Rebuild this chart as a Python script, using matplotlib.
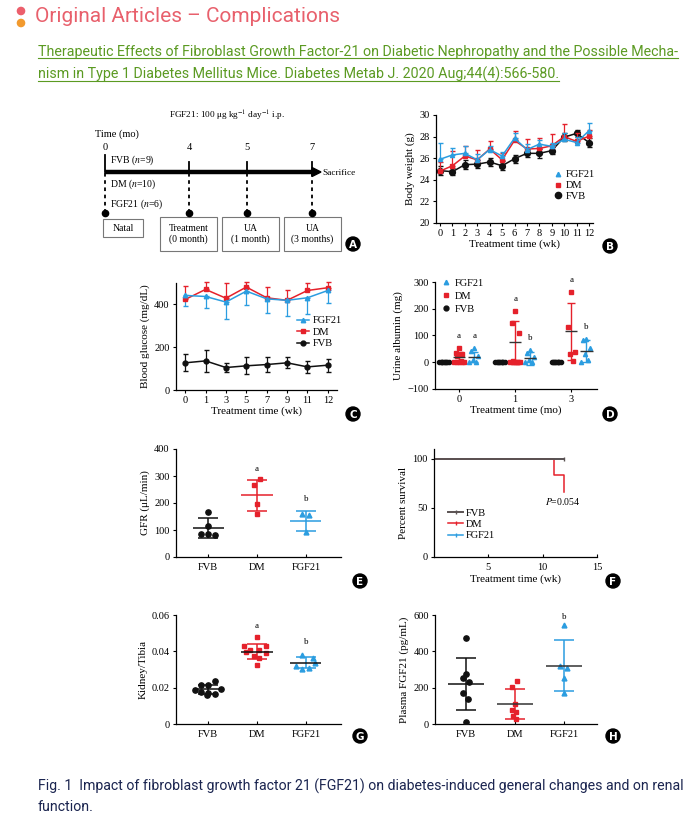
import numpy as np
import matplotlib
matplotlib.use("Agg")
import matplotlib.pyplot as plt
from matplotlib.patches import Circle, Rectangle, Polygon
from matplotlib.lines import Line2D

plt.rcParams["font.family"] = ["Liberation Serif", "DejaVu Serif"]
plt.rcParams["font.size"] = 7.5
plt.rcParams["mathtext.fontset"] = "stix"
plt.rcParams["axes.linewidth"] = 0.9

BLUE = "#2b9de0"
RED = "#e5212b"
BLACK = "#111111"

# ---- data -------------------------------------------------------------
# A: study timeline
stops = ["0", "4", "5", "7"]
groups_a = ["FVB ($n$=9)", "DM ($n$=10)", "FGF21 ($n$=6)"]
boxes_a = ["Natal", "Treatment\n(0 month)", "UA\n(1 month)", "UA\n(3 months)"]

# B: body weight (g)
weeks_b = np.arange(13)
bw_fgf21 = [25.9, 26.3, 26.45, 25.85, 26.8, 26.2, 27.85, 26.8, 27.3, 27.1, 27.75, 27.45, 28.55]
bw_fgf21_err = [1.55, 0.6, 0.7, 0.55, 0.3, 0.4, 0.45, 0.5, 0.4, 0.35, 0.55, 0.5, 0.75]
bw_dm = [24.8, 25.3, 26.2, 25.85, 26.85, 25.85, 27.65, 26.85, 26.9, 27.15, 28.0, 27.55, 28.05]
bw_dm_err = [0.85, 1.4, 0.9, 0.9, 0.75, 0.6, 0.9, 0.9, 0.95, 1.1, 1.15, 0.75, 0.55]
bw_fvb = [24.85, 24.75, 25.4, 25.45, 25.65, 25.3, 25.95, 26.45, 26.45, 26.7, 27.95, 28.3, 27.45]
bw_fvb_err = [0.4, 0.35, 0.4, 0.4, 0.35, 0.4, 0.35, 0.35, 0.4, 0.35, 0.35, 0.3, 0.45]

# C: blood glucose (mg/dL)
weeks_c = ["0", "1", "3", "5", "7", "9", "11", "12"]
bg_fgf21 = [442, 437, 411, 462, 426, 419, 431, 465]
bg_fgf21_err = [51, 53, 78, 67, 66, 75, 78, 59]
bg_dm = [423, 470, 429, 481, 431, 419, 465, 478]
bg_dm_err = [62, 34, 70, 23, 51, 46, 36, 26]
bg_fvb = [127, 136, 105, 113, 119, 127, 108, 116]
bg_fvb_err = [40, 50, 22, 39, 33, 25, 28, 31]

# D: urine albumin (mg)
months_d = ["0", "1", "3"]
ua_fvb = [[0, 0, 0, 0, 0, 0, 0, 0, 0], [0, 0, 0, 0, 0, 0, 0, 0, 0], [0, 0, 0, 0, 0, 0, 0, 0, 0]]
ua_dm = [[52, 35, 32, 24, 5, 2, 0, 0, 0, 0],
         [192, 145, 110, 5, 2, 0, 0, 0, 0, 0],
         [262, 130, 40, 30, 5]]
ua_fgf21 = [[55, 42, 22, 10, 2, 0],
            [45, 35, 20, 8, 2, 0],
            [87, 82, 55, 30, 10, 2]]
ua_dm_mean = [18, 75, 115]
ua_dm_sd = [20, 80, 107]
ua_fgf21_mean = [20, 15, 42]
ua_fgf21_sd = [20, 25, 40]
ua_dm_sig = ["a", "a", "a"]
ua_dm_sig_y = [97, 238, 309]
ua_fgf21_sig = ["a", "b", "b"]
ua_fgf21_sig_y = [97, 91, 132]

# E, G, H: group dot plots
cats = ["FVB", "DM", "FGF21"]
gfr = [[165, 115, 87, 85, 82], [288, 265, 197, 161], [160, 154, 92]]
gfr_mean = [107, 228, 135]
gfr_sd = [36, 59, 37]
gfr_sig = ["", "a", "b"]
gfr_sig_y = [0, 325, 215]

kt = [[0.0235, 0.0213, 0.0212, 0.0190, 0.0188, 0.0176, 0.0173, 0.0165, 0.0157],
      [0.0477, 0.0431, 0.0431, 0.0407, 0.0398, 0.0407, 0.0389, 0.0374, 0.0365, 0.0325],
      [0.0380, 0.0362, 0.0338, 0.0319, 0.0301, 0.0306]]
kt_mean = [0.0191, 0.0398, 0.0338]
kt_sd = [0.0025, 0.0042, 0.0031]
kt_sig = ["", "a", "b"]
kt_sig_y = [0, 0.0541, 0.045]

pf = [[472, 275, 251, 229, 169, 138, 13],
      [237, 202, 108, 77, 64, 44, 26],
      [545, 319, 306, 251, 169]]
pf_mean = [220, 108, 321]
pf_sd = [143, 82, 140]
pf_sig = ["", "", "b"]
pf_sig_y = [0, 0, 591]

# F: survival
surv_fvb_t = [0, 12]
surv_fvb = [100, 100]
surv_dm_t = [0, 11, 12]
surv_dm = [100, 83.3, 66.7]
surv_fgf21_t = [0, 12]
surv_fgf21 = [100, 100]

# horizontal spread of points inside a group (layout only)
gfr_offs = [[0, 0, -0.14, 0, 0.14], [0.07, -0.07, 0, 0], [-0.07, 0.07, 0]]
kt_offs = [[0.13, -0.14, 0, 0.27, -0.27, -0.14, 0, 0.13, -0.03],
           [-0.01, -0.27, 0.19, -0.14, -0.22, 0.05, 0.19, -0.07, 0.05, 0],
           [-0.07, 0.14, 0.19, -0.21, -0.07, 0.07]]
pf_offs = [[0, 0, -0.05, 0.07, -0.05, 0.05, 0],
           [0.05, -0.07, 0, -0.07, 0.03, -0.05, 0.03],
           [0, -0.08, 0.05, 0, 0]]
ua_spread = [0, -0.06, 0.06, -0.03, 0.03, -0.09, 0.09, -0.045, 0.045, 0.0]

# ---- figure -------------------------------------------------------------
W, H = 700, 830
fig = plt.figure(figsize=(W / 100, H / 100), dpi=100)
ov = fig.add_axes([0, 0, 1, 1])
ov.set_xlim(0, W)
ov.set_ylim(H, 0)
ov.axis("off")

SANS = ["Roboto", "DejaVu Sans"]


def panel(l, t, r, b):
    ax = fig.add_axes([l / W, 1 - b / H, (r - l) / W, (b - t) / H])
    ax.patch.set_visible(False)
    ax.spines[["top", "right"]].set_visible(False)
    ax.tick_params(length=2.5, width=0.8, labelsize=7.5, pad=2)
    return ax


def badge(x, y, letter):
    ov.add_patch(Circle((x, y), 7, color="black", zorder=5))
    ov.text(x, y + 0.5, letter, color="white", fontsize=7.5, fontweight="bold",
            family="DejaVu Sans", ha="center", va="center", zorder=6)


# header
ov.add_patch(Circle((21, 11), 3.6, color="#ec5f6c"))
ov.add_patch(Circle((21, 23), 3.6, color="#f29a2e"))
ov.text(35, 17, "Original Articles \u2013 Complications", color="#e8606c",
        fontsize=15, family=SANS, va="center")
link1 = ov.text(38, 52, "Therapeutic Effects of Fibroblast Growth Factor-21 on Diabetic "
                "Nephropathy and the Possible Mecha-", color="#5b9a22", fontsize=10.3,
                family=SANS, va="center")
link2 = ov.text(38, 74, "nism in Type 1 Diabetes Mellitus Mice. Diabetes Metab J. 2020 "
                "Aug;44(4):566-580.", color="#5b9a22", fontsize=10.3,
                family=SANS, va="center")
ov.text(38, 786, "Fig. 1  Impact of fibroblast growth factor 21 (FGF21) on diabetes-induced "
        "general changes and on renal", color="#1b2550", fontsize=10.2,
        family=SANS, va="center")
ov.text(38, 807, "function.", color="#1b2550", fontsize=10.2,
        family=SANS, va="center")

# ---- A: timeline ---------------------------------------------------------
stop_x = [105, 189, 247, 312]
ov.text(227, 116, r"FGF21: 100 $\mathrm{\mu}$g kg$^{-1}$ day$^{-1}$ i.p.", fontsize=6.7,
        ha="center", va="center")
ov.text(95, 134, "Time (mo)", fontsize=7.5, va="center")
ov.plot([105, 313], [172, 172], color="black", lw=3.2, solid_capstyle="butt")
ov.add_patch(Polygon([(312, 167.5), (321, 172), (312, 176.5)], color="black"))
ov.text(322, 173, "Sacrifice", fontsize=6.7, va="center")
for i, (sx, lab) in enumerate(zip(stop_x, stops)):
    ov.text(sx, 148, lab, fontsize=7.5, ha="center", va="center")
    ov.plot([sx, sx], [155 if i == 0 else 162, 172], color="black", lw=1.3)
    ov.plot([sx, sx], [173, 211], color="black", lw=1.3, ls=(0, (2, 2)))
    ov.plot(sx, 213, "o", color="black", ms=4.5)
for gy, g in zip([160, 184, 204], groups_a):
    ov.text(110, gy, g, fontsize=7, va="center")
box_l = [103, 160, 222, 284]
box_r = [143, 217, 279, 341]
box_t = [219, 217, 217, 217]
box_b = [237, 251, 251, 251]
for l, r, t, b, lab in zip(box_l, box_r, box_t, box_b, boxes_a):
    ov.add_patch(Rectangle((l, t), r - l, b - t, fill=False, ec="#777777", lw=0.8))
    ov.text((l + r) / 2, (t + b) / 2, lab, fontsize=7, ha="center", va="center",
            linespacing=1.1)
badge(353, 244, "A")

# ---- B: body weight -----------------------------------------------------
ax = panel(436, 115, 593, 223)
z = np.zeros(13)
ax.errorbar(weeks_b, bw_fvb, yerr=bw_fvb_err, color=BLACK, lw=1.1, marker="o", ms=4.2,
            capsize=1.8, elinewidth=0.9, zorder=2)
ax.errorbar(weeks_b, bw_dm, yerr=[z, bw_dm_err], color=RED, lw=1.1, marker="s", ms=2.2,
            capsize=1.8, elinewidth=0.9, zorder=3)
ax.errorbar(weeks_b, bw_fgf21, yerr=[z, bw_fgf21_err], color=BLUE, lw=1.1, marker="^",
            ms=3.0, capsize=1.8, elinewidth=0.9, zorder=4)
ax.set_xlim(-0.32, 12.32)
ax.set_ylim(20, 30)
ax.set_xticks(weeks_b)
ax.set_yticks(np.arange(20, 31, 2))
ax.set_xlabel("Treatment time (wk)", fontsize=8, labelpad=1)
ax.set_ylabel("Body weight (g)", fontsize=8, labelpad=3)
hb = [Line2D([], [], ls="none", marker="^", color=BLUE, ms=3.2),
      Line2D([], [], ls="none", marker="s", color=RED, ms=2.2),
      Line2D([], [], ls="none", marker="o", color=BLACK, ms=4.5)]
ax.legend(hb, ["FGF21", "DM", "FVB"], loc="upper left", bbox_to_anchor=(0.75, 0.49),
          frameon=False, fontsize=7.5, handlelength=0.8, handletextpad=0.4,
          labelspacing=0.15, borderpad=0, borderaxespad=0)
badge(610, 246, "B")

# ---- C: blood glucose -----------------------------------------------------
ax = panel(176, 283, 337, 390)
xc = np.arange(len(weeks_c))
zc = np.zeros(len(weeks_c))
ax.errorbar(xc, bg_fvb, yerr=bg_fvb_err, color=BLACK, lw=1.1, marker="o", ms=3.5,
            capsize=1.8, elinewidth=0.9)
ax.errorbar(xc, bg_dm, yerr=[zc, bg_dm_err], color=RED, lw=1.1, marker="s", ms=3.2,
            capsize=1.8, elinewidth=0.9)
ax.errorbar(xc, bg_fgf21, yerr=[bg_fgf21_err, zc], color=BLUE, lw=1.1, marker="^", ms=3.2,
            capsize=1.8, elinewidth=0.9)
for art in ax.get_children():
    if hasattr(art, "set_clip_on"):
        art.set_clip_on(False)
ax.set_xlim(-0.45, 7.45)
ax.set_ylim(0, 500)
ax.set_xticks(xc, weeks_c)
ax.set_yticks([0, 200, 400])
ax.set_xlabel("Treatment time (wk)", fontsize=8, labelpad=1)
ax.set_ylabel("Blood glucose (mg/dL)", fontsize=8, labelpad=3)
hc = [Line2D([], [], marker="^", color=BLUE, ms=3.2, lw=1.1),
      Line2D([], [], marker="s", color=RED, ms=3.2, lw=1.1),
      Line2D([], [], marker="o", color=BLACK, ms=3.5, lw=1.1)]
ax.legend(hc, ["FGF21", "DM", "FVB"], loc="upper left", bbox_to_anchor=(0.75, 0.69),
          frameon=False, fontsize=7.5, handlelength=1.2, handletextpad=0.3,
          labelspacing=0.2, borderpad=0, borderaxespad=0)
badge(353, 414, "C")

# ---- D: urine albumin -----------------------------------------------------
ax = panel(435, 282, 597, 389)
for i in range(len(months_d)):
    xs = i - 0.27 + np.array(ua_spread[:len(ua_fvb[i])]) * 0.9
    ax.plot(xs, ua_fvb[i], ls="none", marker="o", color=BLACK, ms=3.0)
    xs = i + np.array(ua_spread[:len(ua_dm[i])])
    ax.plot(xs, ua_dm[i], ls="none", marker="s", color=RED, ms=3.0)
    xs = i + 0.27 + np.array(ua_spread[:len(ua_fgf21[i])])
    ax.plot(xs, ua_fgf21[i], ls="none", marker="^", color=BLUE, ms=3.0)
    ax.errorbar(i, ua_dm_mean[i], yerr=ua_dm_sd[i], color=RED, capsize=3, lw=1)
    ax.errorbar(i + 0.27, ua_fgf21_mean[i], yerr=ua_fgf21_sd[i], color=BLUE, capsize=3, lw=1)
    ax.hlines(ua_dm_mean[i], i - 0.11, i + 0.11, color="#333333", lw=1, zorder=4)
    ax.hlines(ua_fgf21_mean[i], i + 0.16, i + 0.38, color="#333333", lw=1, zorder=4)
    ax.text(i, ua_dm_sig_y[i], ua_dm_sig[i], fontsize=6.5, ha="center", va="center")
    ax.text(i + 0.27, ua_fgf21_sig_y[i], ua_fgf21_sig[i], fontsize=6.5, ha="center", va="center")
ax.set_xlim(-0.43, 2.46)
ax.set_ylim(-100, 300)
ax.set_xticks(range(len(months_d)), months_d)
ax.set_yticks(np.arange(-100, 301, 100))
ax.set_xlabel("Treatment time (mo)", fontsize=8, labelpad=1)
ax.set_ylabel("Urine albumin (mg)", fontsize=8, labelpad=3)
hd = [Line2D([], [], ls="none", marker="^", color=BLUE, ms=3.2),
      Line2D([], [], ls="none", marker="s", color=RED, ms=3.2),
      Line2D([], [], ls="none", marker="o", color=BLACK, ms=3.5)]
ax.legend(hd, ["FGF21", "DM", "FVB"], loc="upper left", bbox_to_anchor=(0.04, 1.03),
          frameon=False, fontsize=7.5, handlelength=0.8, handletextpad=0.5,
          labelspacing=0.35, borderpad=0, borderaxespad=0)
badge(610, 414, "D")


# ---- dot plot helper -----------------------------------------------------
def dotplot(ax, vals, offs, means, sds, sig, sig_y, mean_cols, err_cols, half):
    styles = [("o", BLACK, 3.8), ("s", RED, 3.5), ("^", BLUE, 3.5)]
    for i, (m, c, ms) in enumerate(styles):
        ax.plot(i + np.array(offs[i]), vals[i], ls="none", marker=m, color=c, ms=ms,
                zorder=3)
        ax.errorbar(i, means[i], yerr=sds[i], color=err_cols[i], capsize=7, lw=1.1,
                    capthick=1.1, zorder=2)
        ax.hlines(means[i], i - half, i + half, color=mean_cols[i], lw=1.1, zorder=4)
        if sig[i]:
            ax.text(i, sig_y[i], sig[i], fontsize=6.5, ha="center", va="center")
    ax.set_xticks(range(3), cats)
    ax.tick_params(axis="x", direction="in", length=2.5, pad=4)


# ---- E: GFR -----------------------------------------------------------------
ax = panel(176, 449, 341, 557)
dotplot(ax, gfr, gfr_offs, gfr_mean, gfr_sd, gfr_sig, gfr_sig_y,
        [BLACK, RED, BLUE], [BLACK, RED, BLUE], 0.32)
ax.set_xlim(-0.66, 2.72)
ax.set_ylim(0, 400)
ax.set_yticks(np.arange(0, 401, 100))
ax.set_ylabel("GFR (\u03bcL/min)", fontsize=8, labelpad=3)
badge(360, 581, "E")

# ---- F: survival --------------------------------------------------------------
ax = panel(434, 449, 597, 557)
ax.step(surv_fgf21_t, surv_fgf21, where="post", color=BLUE, lw=1.1)
ax.step(surv_dm_t, surv_dm, where="post", color=RED, lw=1.1)
ax.step(surv_fvb_t, surv_fvb, where="post", color="#5a5252", lw=1.4)
ax.plot(surv_fvb_t[-1], surv_fvb[-1], marker="|", color="#5a5252", ms=3)
ax.text(11.8, 57, "$P$=0.054", fontsize=7, ha="center", va="center")
ax.set_xlim(0, 15)
ax.set_ylim(0, 110)
ax.set_xticks([5, 10, 15])
ax.set_yticks([0, 50, 100])
ax.tick_params(axis="x", direction="in", length=2.5, pad=4)
ax.set_xlabel("Treatment time (wk)", fontsize=8, labelpad=2)
ax.set_ylabel("Percent survival", fontsize=8, labelpad=3)
hf = [Line2D([], [], color="#5a5252", lw=1.4, marker="|", ms=3),
      Line2D([], [], color=RED, lw=1.1, marker="|", ms=3),
      Line2D([], [], color=BLUE, lw=1.1, marker="|", ms=3)]
ax.legend(hf, ["FVB", "DM", "FGF21"], loc="upper left", bbox_to_anchor=(0.085, 0.45),
          frameon=False, fontsize=7.5, handlelength=1.5, handletextpad=0.2,
          labelspacing=0.2, borderpad=0, borderaxespad=0)
badge(613, 581, "F")

# ---- G: kidney / tibia -----------------------------------------------------
ax = panel(176, 615, 341, 724)
dotplot(ax, kt, kt_offs, kt_mean, kt_sd, kt_sig, kt_sig_y,
        [BLACK, BLACK, BLACK], [BLACK, RED, BLUE], 0.32)
ax.set_xlim(-0.66, 2.72)
ax.set_ylim(0, 0.06)
ax.set_yticks([0, 0.02, 0.04, 0.06], ["0", "0.02", "0.04", "0.06"])
ax.set_ylabel("Kidney/Tibia", fontsize=8, labelpad=3)
badge(360, 736, "G")

# ---- H: plasma FGF21 ------------------------------------------------------
ax = panel(435, 615, 597, 724)
dotplot(ax, pf, pf_offs, pf_mean, pf_sd, pf_sig, pf_sig_y,
        [BLACK, "#333333", "#333333"], [BLACK, RED, BLUE], 0.36)
ax.set_xlim(-0.63, 2.67)
ax.set_ylim(0, 600)
ax.set_yticks(np.arange(0, 601, 200))
ax.set_ylabel("Plasma FGF21 (pg/mL)", fontsize=8, labelpad=3)
badge(613, 736, "H")

# underline the citation link
fig.canvas.draw()
inv = ov.transData.inverted()
for t in (link1, link2):
    bb = t.get_window_extent()
    (x0, y0), (x1, y1) = inv.transform([[bb.x0, bb.y0], [bb.x1, bb.y1]])
    ov.plot([x0, x1], [y0 - 0.5, y0 - 0.5], color="#5b9a22", lw=0.8)

fig.savefig("out.png", dpi=100)
